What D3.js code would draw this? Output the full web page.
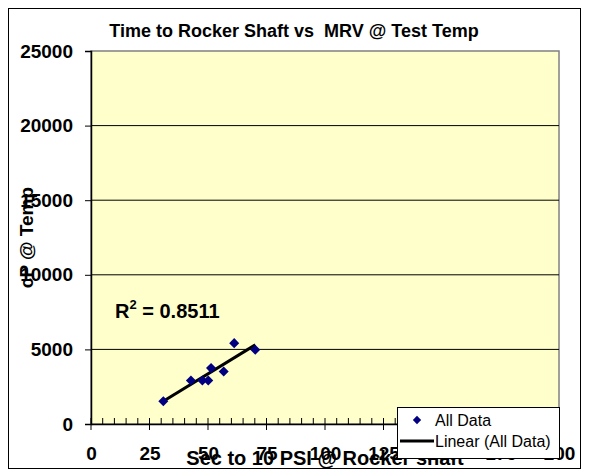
<!DOCTYPE html>
<html>
<head>
<meta charset="utf-8">
<script src="https://d3js.org/d3.v7.min.js"></script>
<style>
  body { margin: 0; background: #fff; }
  text { font-family: Arial, "Liberation Sans", sans-serif; }
</style>
</head>
<body>
<div id="chart"></div>
<script>
// values
var secToPsi = [30.9, 42.7, 47.6, 50.1, 51.3, 56.7, 61.2, 70.2];
var cpAtTemp = [1530, 2920, 2920, 2920, 3745, 3520, 5420, 4980];
var xTicks = [0, 25, 50, 75, 100, 125, 150, 175, 200];
var yTicks = [0, 5000, 10000, 15000, 20000, 25000];
var rSquaredLabel = "0.8511";

var WIDTH = 589, HEIGHT = 475;
var PL = 91, PR = 559, PT = 51, PB = 424;

var svg = d3.select("#chart").append("svg")
    .attr("width", WIDTH)
    .attr("height", HEIGHT);

// outer chart frame
svg.append("rect")
    .attr("x", 8.5).attr("y", 8.5)
    .attr("width", 572).attr("height", 460)
    .attr("fill", "#fff").attr("stroke", "#000").attr("stroke-width", 1);

var x = d3.scaleLinear().domain([0, 200]).range([PL, PR]);
var y = d3.scaleLinear().domain([0, 25000]).range([PB, PT]);

// plot area
svg.append("rect")
    .attr("x", PL).attr("y", PT)
    .attr("width", PR - PL).attr("height", PB - PT)
    .attr("fill", "#ffffcc")
    .attr("stroke", "#808080").attr("stroke-width", 1.5);

// gridlines
svg.append("g").selectAll("line")
    .data(yTicks.filter(function (d) { return d > 0 && d < 25000; }))
    .enter().append("line")
    .attr("x1", PL).attr("x2", PR)
    .attr("y1", function (d) { return y(d); })
    .attr("y2", function (d) { return y(d); })
    .attr("stroke", "#000").attr("stroke-width", 1);

// y axis
var yAxis = svg.append("g")
    .attr("transform", "translate(" + PL + ",0)")
    .call(d3.axisLeft(y).tickValues(yTicks).tickSize(6).tickPadding(12).tickFormat(d3.format("d")));
yAxis.select(".domain").attr("stroke-width", 1.5);
yAxis.selectAll("text")
    .attr("font-size", "19px").attr("font-weight", "bold")
    .attr("font-family", "Arial, 'Liberation Sans', sans-serif");

// x axis: minor ticks inside, major ticks crossing
var minor = d3.range(0, 201, 5);
svg.append("g").selectAll("line")
    .data(minor)
    .enter().append("line")
    .attr("x1", function (d) { return x(d); })
    .attr("x2", function (d) { return x(d); })
    .attr("y1", PB - 6)
    .attr("y2", function (d) { return d % 25 === 0 ? PB + 6 : PB; })
    .attr("stroke", "#000").attr("stroke-width", 1);

var xAxis = svg.append("g")
    .attr("transform", "translate(0," + PB + ")")
    .call(d3.axisBottom(x).tickValues(xTicks).tickSize(0).tickPadding(23));
xAxis.select(".domain").attr("stroke-width", 1.5);
xAxis.selectAll("text")
    .attr("font-size", "19px").attr("font-weight", "bold")
    .attr("font-family", "Arial, 'Liberation Sans', sans-serif");

// linear trendline (least squares over the points)
var mx = d3.mean(secToPsi), my = d3.mean(cpAtTemp);
var sxy = d3.sum(secToPsi, function (d, i) { return (d - mx) * (cpAtTemp[i] - my); });
var sxx = d3.sum(secToPsi, function (d) { return (d - mx) * (d - mx); });
var slope = sxy / sxx, icpt = my - slope * mx;
var xMin = d3.min(secToPsi), xMax = d3.max(secToPsi);

svg.append("line")
    .attr("x1", x(xMin)).attr("y1", y(icpt + slope * xMin))
    .attr("x2", x(xMax)).attr("y2", y(icpt + slope * xMax))
    .attr("stroke", "#000").attr("stroke-width", 3);

// points
var diamond = d3.symbol().type(d3.symbolDiamond2).size(64);
svg.append("g").selectAll("path")
    .data(secToPsi)
    .enter().append("path")
    .attr("d", diamond)
    .attr("transform", function (d, i) {
        return "translate(" + x(d) + "," + y(cpAtTemp[i]) + ")";
    })
    .attr("fill", "#000080");

// R squared label
var r2 = svg.append("text")
    .attr("x", 115).attr("y", 318)
    .attr("font-size", "20px").attr("font-weight", "bold");
r2.append("tspan").text("R");
r2.append("tspan").attr("font-size", "13px").attr("dy", -9).text("2");
r2.append("tspan").attr("dy", 9).text(" = " + rSquaredLabel);

// title
svg.append("text")
    .attr("x", 294).attr("y", 37)
    .attr("text-anchor", "middle")
    .attr("font-size", "18px").attr("font-weight", "bold")
    .style("white-space", "pre")
    .text("Time to Rocker Shaft vs  MRV @ Test Temp");

// axis titles
svg.append("text")
    .attr("x", (PL + PR) / 2).attr("y", 465)
    .attr("text-anchor", "middle")
    .attr("font-size", "20px").attr("font-weight", "bold")
    .text("Sec to 10 PSI @ Rocker shaft");

svg.append("text")
    .attr("transform", "translate(33," + (PT + PB) / 2 + ")rotate(-90)")
    .attr("text-anchor", "middle")
    .attr("font-size", "19px").attr("font-weight", "bold")
    .text("cP @ Temp");

// legend
var legend = svg.append("g");
legend.append("rect")
    .attr("x", 397.5).attr("y", 407.5)
    .attr("width", 162).attr("height", 51)
    .attr("fill", "#fff").attr("stroke", "#000").attr("stroke-width", 1);
legend.append("path")
    .attr("d", d3.symbol().type(d3.symbolDiamond2).size(44))
    .attr("transform", "translate(417,420)")
    .attr("fill", "#000080");
legend.append("text")
    .attr("x", 435).attr("y", 426)
    .attr("font-size", "16px")
    .text("All Data");
legend.append("line")
    .attr("x1", 400).attr("x2", 434)
    .attr("y1", 441).attr("y2", 441)
    .attr("stroke", "#000").attr("stroke-width", 3);
legend.append("text")
    .attr("x", 435).attr("y", 447)
    .attr("font-size", "16px")
    .text("Linear (All Data)");
</script>
</body>
</html>
